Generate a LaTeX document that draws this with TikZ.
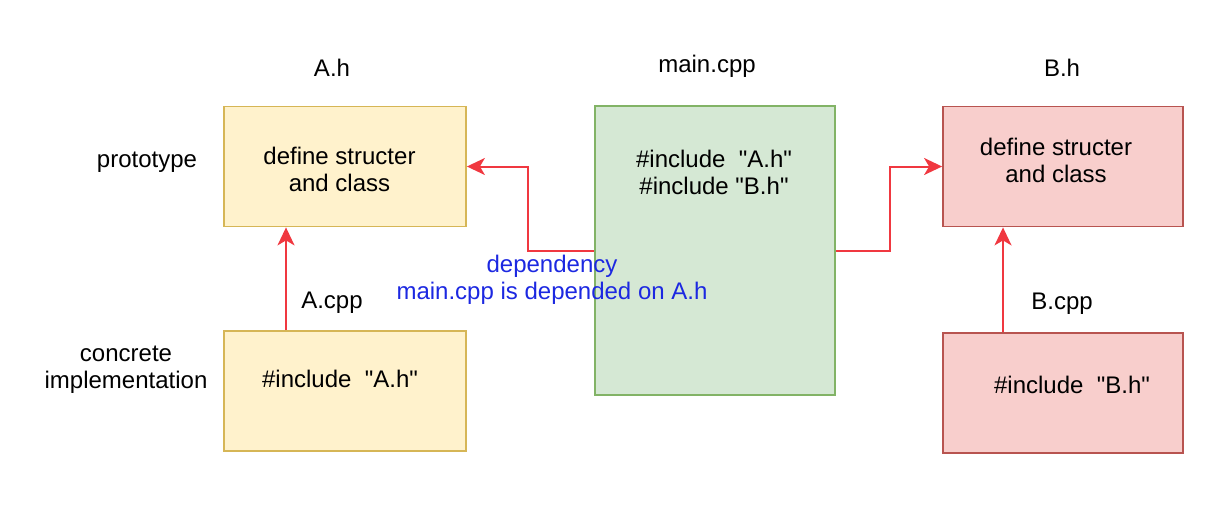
\documentclass[tikz,border=0pt]{standalone}
\usepackage{fontspec}
\setmainfont{Liberation Sans}[Ligatures=TeXOff]
\usetikzlibrary{arrows.meta,positioning}
\definecolor{hfill}{HTML}{FFF2CC}
\definecolor{hline}{HTML}{D6B656}
\definecolor{mfill}{HTML}{D5E8D4}
\definecolor{mline}{HTML}{82B366}
\definecolor{bfill}{HTML}{F8CECC}
\definecolor{bline}{HTML}{B85450}
\definecolor{deparrow}{RGB}{240,56,64}
\definecolor{deptext}{RGB}{28,40,225}
\tikzset{
  txt/.style={inner sep=0pt,align=center,font=\fontsize{24}{27}\selectfont},
  filebox/.style={draw,line width=1.8pt,minimum width=#1,minimum height=120pt,inner sep=0pt},
  dep/.style={draw=deparrow,line width=2pt,-{Stealth[length=18pt,width=17pt,inset=5pt]}}
}

\begin{document}
\begin{tikzpicture}[x=1pt,y=-1pt]
\useasboundingbox (0,0) rectangle (1230,516);

\node[filebox=242pt,fill=hfill,draw=hline] (ah) at (345,166.5) {};
\node[filebox=242pt,fill=hfill,draw=hline] (acpp) at (345,391) {};
\node[filebox=240pt,fill=mfill,draw=mline,minimum height=289pt] (main) at (715,250.5) {};
\node[filebox=240pt,fill=bfill,draw=bline] (bh) at (1063,166.5) {};
\node[filebox=240pt,fill=bfill,draw=bline] (bcpp) at (1063,393) {};

\node[txt,anchor=base] (ahname) at (332,77) {A.h};
\node[txt,anchor=base] (mainname) at (707,73) {main.cpp};
\node[txt,anchor=base] (bhname) at (1062,77) {B.h};
\node[txt,anchor=base] (acppname) at (332,308) {A.cpp};
\node[txt,anchor=base] (bcppname) at (1062,309) {B.cpp};
\node[txt,anchor=base] (proto) at (147,167) {prototype};
\node[txt] (concrete) at (126,370) {concrete\\implementation};

\node[txt] (ahtext) at (339.5,169.5) {define structer\\and class};
\node[txt] (bhtext) at (1056,160) {define structer\\and class};
\node[txt] (maintext) at (714,172.5) {\#include~~"A.h"\\\#include "B.h"};
\node[txt,anchor=base] (acpptext) at (340,387) {\#include~~"A.h"};
\node[txt,anchor=base] (bcpptext) at (1072,393) {\#include~~"B.h"};

\draw[dep] ([xshift=-59pt]acpp.north) -- ([xshift=-59pt]ah.south);
\draw[dep] ([xshift=-60pt]bcpp.north) -- ([xshift=-60pt]bh.south);
\draw[dep] (main.west) -- ++(-66,0) |- (ah.east);
\draw[dep] (main.east) -- ++(54,0) |- (bh.west);

\node[txt,text=deptext] (deplabel) at (552,280) {dependency\\main.cpp is depended on A.h};
\end{tikzpicture}
\end{document}
